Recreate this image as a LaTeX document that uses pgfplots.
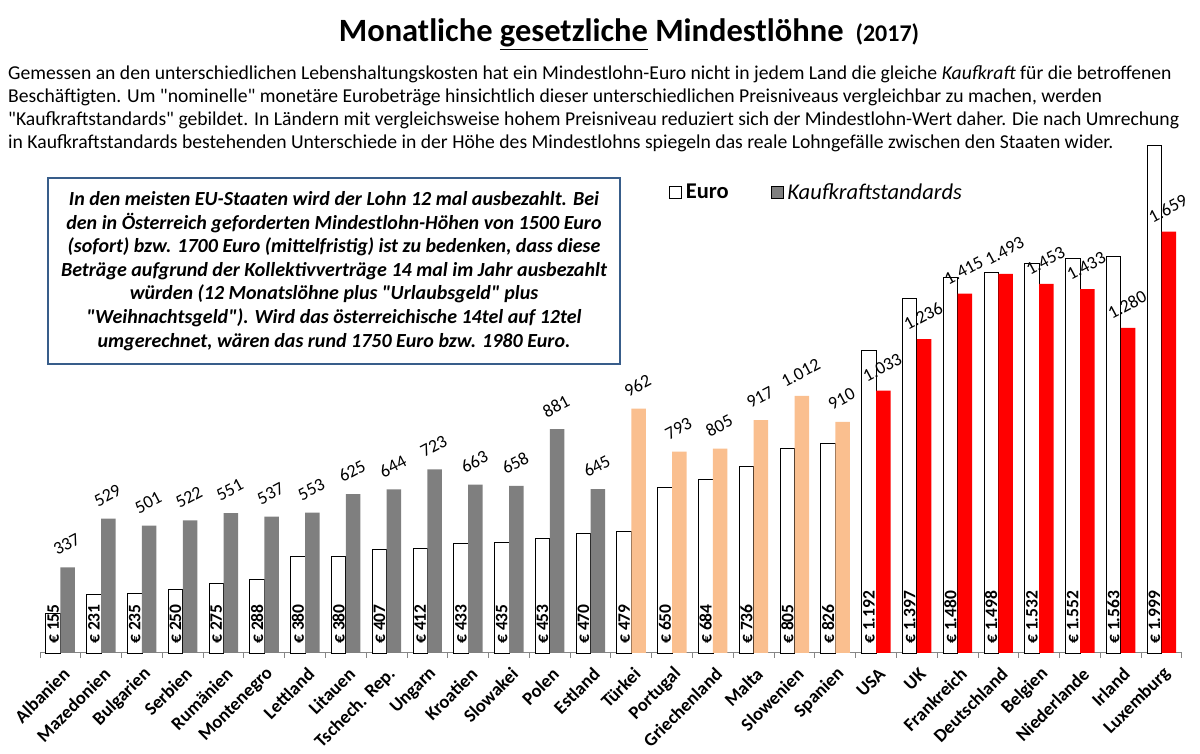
\documentclass[border=0pt]{standalone}
\usepackage{fontspec}
\setmainfont{Carlito}
\usepackage{pgfplots}
\pgfplotsset{compat=1.18}
\usepackage{pgfplotstable}
\definecolor{kgray}{RGB}{127,127,127}
\definecolor{kpeach}{RGB}{250,191,143}
\definecolor{kred}{RGB}{255,0,0}
\definecolor{boxblue}{RGB}{56,93,138}
\definecolor{axgray}{RGB}{134,134,134}
\newcommand{\qq}{\textquotedbl}

\pgfplotstableread{
i euro kks
0 155 337
1 231 529
2 235 501
3 250 522
4 275 551
5 288 537
6 380 553
7 380 625
8 407 644
9 412 723
10 433 663
11 435 658
12 453 881
13 470 645
14 479 962
15 650 793
16 684 805
17 736 917
18 805 1012
19 826 910
20 1192 1033
21 1397 1236
22 1480 1415
23 1498 1493
24 1532 1453
25 1552 1433
26 1563 1280
27 1999 1659
}\datatable

\begin{document}
\begin{tikzpicture}[x=1pt,y=1pt]
\path[use as bounding box] (0,0) rectangle (1200,754);

% title
\node[anchor=base] at (629,712) {\fontsize{32.5}{32.5}\selectfont\bfseries Monatliche \underline{gesetzliche} Mindestlöhne\hspace{12pt}{\fontsize{24}{24}\selectfont (2017)}};

% paragraph
\begin{scope}[every node/.style={anchor=base west, inner sep=0pt, font=\fontsize{19.65}{19.65}\selectfont}]
\node at (8,674) {Gemessen an den unterschiedlichen Lebenshaltungskosten hat ein Mindestlohn-Euro nicht in jedem Land die gleiche \textit{Kaufkraft} für die betroffenen};
\node at (8,651) {Beschäftigten. Um \qq nominelle\qq{} monetäre Eurobeträge hinsichtlich dieser unterschiedlichen Preisniveaus vergleichbar zu machen, werden};
\node at (8,628) {\qq Kaufkraftstandards\qq{} gebildet. In Ländern mit vergleichsweise hohem Preisniveau reduziert sich der Mindestlohn-Wert daher. Die nach Umrechung};
\node at (8,605) {in Kaufkraftstandards bestehenden Unterschiede in der Höhe des Mindestlohns spiegeln das reale Lohngefälle zwischen den Staaten wider.};
\end{scope}

% text box
\draw[boxblue, line width=1.5pt, fill=white] (48,390) rectangle (620,576);
\node[align=center, font=\fontsize{20}{23.6}\selectfont\bfseries\itshape] at (334,483) {In den meisten EU-Staaten wird der Lohn 12 mal ausbezahlt. Bei\\
den in Österreich geforderten Mindestlohn-Höhen von 1500 Euro\\
(sofort) bzw. 1700 Euro (mittelfristig) ist zu bedenken, dass diese\\
Beträge aufgrund der Kollektivverträge 14 mal im Jahr ausbezahlt\\
würden (12 Monatslöhne plus \qq Urlaubsgeld\qq{} plus\\
\qq Weihnachtsgeld\qq). Wird das österreichische 14tel auf 12tel\\
umgerechnet, wären das rund 1750 Euro bzw. 1980 Euro.};

\begin{axis}[
  at={(40pt,101pt)}, anchor=south west,
  scale only axis, width=1142pt, height=508pt,
  xmin=-0.5, xmax=27.5, ymin=0, ymax=2000,
  clip=false,
  ybar, bar width=14.5pt,
  axis y line=none,
  axis x line*=bottom,
  x axis line style={axgray, line width=1pt},
  xtick={0,...,27},
  xticklabels={Albanien,Mazedonien,Bulgarien,Serbien,Rumänien,Montenegro,Lettland,Litauen,Tschech. Rep.,Ungarn,Kroatien,Slowakei,Polen,Estland,Türkei,Portugal,Griechenland,Malta,Slowenien,Spanien,USA,UK,Frankreich,Deutschland,Belgien,Niederlande,Irland,Luxemburg},
  major tick length=0pt,
  minor xtick={-0.5,0.5,...,27.5},
  minor tick length=5pt,
  tick align=outside,
  minor tick style={axgray, line width=1pt},
  xticklabel style={xshift=6pt, yshift=-18pt, rotate=45, anchor=east, font=\fontsize{18.5}{18.5}\selectfont\bfseries, inner sep=0pt},
  /pgf/number format/1000 sep={.},
  /pgf/number format/assume math mode=true,
  legend style={at={(axis description cs:0.548,0.907)}, anchor=west, draw=none, fill=none,
    font=\fontsize{22.5}{22.5}\selectfont, legend columns=2,
    /tikz/every even column/.append style={column sep=40pt}},
  legend image code/.code={\draw[#1, line width=0.8pt] (0pt,-6pt) rectangle (12pt,6pt);},
]
\addplot[fill=white, draw=black, line width=0.8pt, bar shift=-7.25pt] table[x=i, y=euro] {\datatable};
\addlegendentry{\hspace{2pt}\textbf{Euro}}

\pgfplotsset{kkslabel/.style={nodes near coords, point meta=y,
   every node near coord/.append style={font=\fontsize{18}{18}\selectfont, anchor=center, yshift=23pt, xshift=-1pt, rotate=28, text=black}}}

\addplot[fill=kgray, draw=none, bar shift=7.25pt, kkslabel, restrict x to domain=-0.5:13.5] table[x=i, y=kks] {\datatable};
\addlegendentry{\hspace{2pt}\textit{Kaufkraftstandards}}
\addplot[fill=kpeach, draw=none, bar shift=7.25pt, kkslabel, restrict x to domain=13.5:19.5, forget plot] table[x=i, y=kks] {\datatable};
\addplot[fill=kred, draw=none, bar shift=7.25pt, kkslabel, restrict x to domain=19.5:27.5, forget plot] table[x=i, y=kks] {\datatable};

% euro value labels at the base of the white bars
\addplot[draw=none, fill=none, bar shift=-7.25pt, forget plot,
  point meta=explicit,
  nodes near coords={€ \pgfmathprintnumber{\pgfplotspointmeta}},
  every node near coord/.append style={font=\fontsize{17.5}{17.5}\selectfont\bfseries, rotate=90, anchor=west, inner xsep=9pt, inner ysep=0pt, text=black}]
  table[x=i, y expr=0, meta=euro] {\datatable};
\end{axis}
\end{tikzpicture}
\end{document}
